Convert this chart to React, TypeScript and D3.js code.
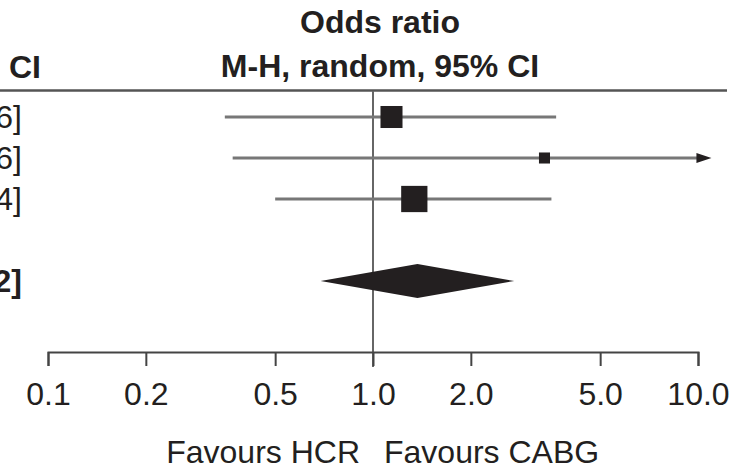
import { useEffect, useRef } from "react";
import * as d3 from "d3";

// study rows (names are cut off in the reference, only the CI column end shows)
const rowKeys = ["s1", "s2", "s3", "gap", "total"];
const oddsRatios = [1.14, 3.37, 1.34];
const ciLower = [0.35, 0.37, 0.5];
const ciUpper = [3.66, 30.56, 3.54];
const weights = [37.4, 9.4, 53.2];
const ciLabels = ["1.14 [0.35, 3.66]", "3.37 [0.37, 30.56]", "1.34 [0.50, 3.54]"];

const totalOR = 1.37;
const totalLower = 0.69;
const totalUpper = 2.72;
const totalLabel = "1.37 [0.69, 2.72]";

const tickValues = [0.1, 0.2, 0.5, 1, 2, 5, 10];
const clipMax = 11; // where lines running off the scale get an arrow

const W = 740;
const H = 467;
const FONT = "'Liberation Sans', Arial, Helvetica, sans-serif";
const INK = "#231f20";
const FS = 32;

export default function App() {
  const svgRef = useRef<SVGSVGElement>(null);

  useEffect(() => {
    const svg = d3.select(svgRef.current);
    svg.selectAll("*").remove();

    const x = d3.scaleLog().domain([0.1, 10]).range([48, 698]);
    const y = d3.scalePoint<string>().domain(rowKeys).range([117, 281]);
    const size = d3.scaleSqrt().domain([0, 100]).range([0, 36]);
    const axisY = 352;

    // headers
    const head = svg.append("g").attr("font-family", FONT).attr("font-weight", "bold").attr("fill", INK).attr("font-size", FS);
    head.append("text").attr("x", 380).attr("y", 33).attr("text-anchor", "middle").text("Odds ratio");
    head.append("text").attr("x", 380).attr("y", 77).attr("text-anchor", "middle").text("M-H, random, 95% CI");
    head.append("text").attr("x", 41).attr("y", 78).attr("text-anchor", "end").text("M-H, random, 95% CI");

    svg.append("line")
      .attr("x1", 0).attr("x2", 727).attr("y1", 90.5).attr("y2", 90.5)
      .attr("stroke", "#555").attr("stroke-width", 2.5);

    // line of no effect
    svg.append("line")
      .attr("x1", x(1)).attr("x2", x(1)).attr("y1", 91).attr("y2", axisY + 15)
      .attr("stroke", "#666").attr("stroke-width", 2);

    // left column (estimate text, mostly off the crop)
    const left = svg.append("g").attr("font-family", FONT).attr("font-size", FS).attr("fill", INK);
    left.selectAll("text.row")
      .data(ciLabels)
      .join("text")
      .attr("class", "row")
      .attr("x", 22)
      .attr("y", (d, i) => y(rowKeys[i])!)
      .attr("dy", "0.35em")
      .attr("text-anchor", "end")
      .text((d) => d);
    left.append("text")
      .attr("x", 22).attr("y", y("total")!).attr("dy", "0.35em")
      .attr("text-anchor", "end").attr("font-weight", "bold")
      .text(totalLabel);

    // CI lines
    const rows = oddsRatios.map((or, i) => ({
      key: rowKeys[i],
      or,
      lo: ciLower[i],
      hi: ciUpper[i],
      w: weights[i],
    }));

    const g = svg.append("g");
    g.selectAll("line.ci")
      .data(rows)
      .join("line")
      .attr("class", "ci")
      .attr("x1", (d) => x(Math.max(d.lo, 0.1)))
      .attr("x2", (d) => (d.hi > clipMax ? x(clipMax) - 14 : x(d.hi)))
      .attr("y1", (d) => y(d.key)!)
      .attr("y2", (d) => y(d.key)!)
      .attr("stroke", "#777")
      .attr("stroke-width", 2.8);

    // arrows for clipped upper limits
    g.selectAll("path.arrow")
      .data(rows.filter((d) => d.hi > clipMax))
      .join("path")
      .attr("class", "arrow")
      .attr("d", (d) => {
        const tip = x(clipMax);
        const cy = y(d.key)!;
        return `M${tip},${cy}L${tip - 15},${cy - 5}L${tip - 15},${cy + 5}Z`;
      })
      .attr("fill", INK);

    // weighted squares
    g.selectAll("rect.box")
      .data(rows)
      .join("rect")
      .attr("class", "box")
      .attr("x", (d) => x(d.or) - size(d.w) / 2)
      .attr("y", (d) => y(d.key)! - size(d.w) / 2)
      .attr("width", (d) => size(d.w))
      .attr("height", (d) => size(d.w))
      .attr("fill", INK);

    // pooled diamond
    const ty = y("total")!;
    svg.append("path")
      .attr("d", `M${x(totalLower)},${ty}L${x(totalOR)},${ty - 17}L${x(totalUpper)},${ty}L${x(totalOR)},${ty + 17}Z`)
      .attr("fill", INK);

    // axis
    const axis = d3.axisBottom(x)
      .tickValues(tickValues)
      .tickFormat(d3.format(".1f"))
      .tickSize(14)
      .tickPadding(16);
    const ax = svg.append("g").attr("transform", `translate(0,${axisY})`).call(axis);
    ax.select(".domain").attr("stroke", "#444").attr("stroke-width", 2);
    ax.selectAll(".tick line").attr("stroke", "#444").attr("stroke-width", 2);
    ax.selectAll(".tick text")
      .attr("font-family", FONT)
      .attr("font-size", FS)
      .attr("fill", INK);

    // favours labels
    const fav = svg.append("g").attr("font-family", FONT).attr("font-size", FS).attr("fill", INK);
    fav.append("text").attr("x", x(1) - 13).attr("y", 463).attr("text-anchor", "end").text("Favours HCR");
    fav.append("text").attr("x", x(1) + 11).attr("y", 463).attr("text-anchor", "start").text("Favours CABG");
  }, []);

  return (
    <svg
      ref={svgRef}
      width={W}
      height={H}
      style={{ position: "absolute", left: 0, top: 0, background: "#fff" }}
    />
  );
}
